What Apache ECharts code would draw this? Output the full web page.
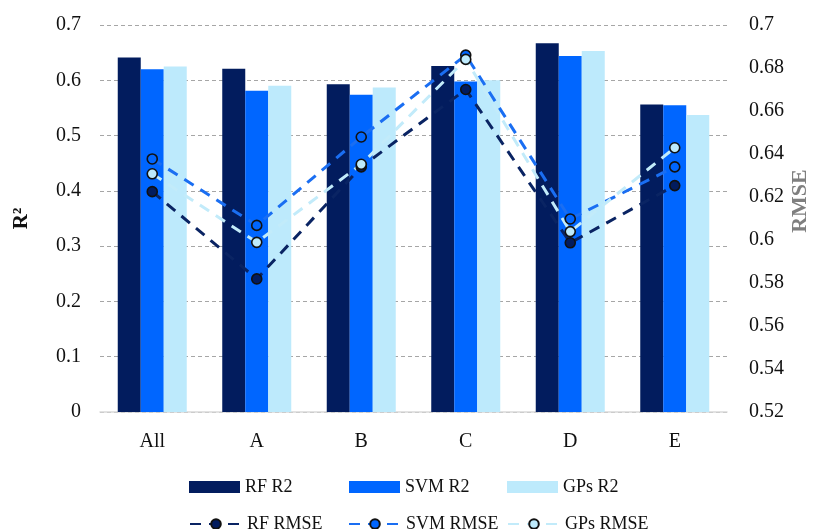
<!DOCTYPE html>
<html><head><meta charset="utf-8">
<script src="https://cdn.jsdelivr.net/npm/echarts@6/dist/echarts.min.js"></script>
<style>html,body{margin:0;padding:0;background:#fff}#c{width:814px;height:529px}</style>
</head><body><div id="c"></div>
<script>
const categories = ['All','A','B','C','D','E'];
const rfR2  = [0.641, 0.621, 0.593, 0.626, 0.667, 0.556];
const svmR2 = [0.620, 0.581, 0.574, 0.598, 0.644, 0.555];
const gpsR2 = [0.625, 0.590, 0.587, 0.600, 0.653, 0.537];
const rfRMSE  = [0.6225, 0.5819, 0.6340, 0.6700, 0.5987, 0.6253];
const svmRMSE = [0.6377, 0.6068, 0.6479, 0.6860, 0.6098, 0.6340];
const gpsRMSE = [0.6308, 0.5989, 0.6352, 0.6840, 0.6039, 0.6429];
const leftTicks = {min: 0, max: 0.7, interval: 0.1};
const rightTicks = {min: 0.52, max: 0.7, interval: 0.02};

const FONT = '"Liberation Serif", "DejaVu Serif", serif';
const C_RF = '#021c5e', C_SVM = '#0066ff', C_GPS = '#bdeafc';
const L_RF = '#0a2463', L_SVM = '#1a6ef2', L_GPS = '#c2ebfa';
const fmt = v => String(parseFloat(Number(v).toFixed(2)));

const chart = echarts.init(document.getElementById('c'));
function barS(name, data, color){
  return {name, type:'bar', data, yAxisIndex:0, barWidth:23, barGap:'0%',
    itemStyle:{color}, z:2};
}
function lineS(name, data, color, fill){
  return {name, type:'line', data, yAxisIndex:1, symbol:'circle', symbolSize:10,
    lineStyle:{color, width:3, type:[11,8]},
    itemStyle:{color:fill, borderColor:'#111', borderWidth:1.6}, z:5};
}
function leg(name, left, top, iw, icon){
  const o = {data:[name], left, top, itemWidth:iw, itemHeight:12, itemGap:0,
    textStyle:{fontFamily:FONT, fontSize:18, color:'#111'}, padding:0,
    selectedMode:false};
  if (icon) o.icon = icon;
  return o;
}
chart.setOption({
  animation:false,
  grid:{left:100, right:87, top:25, bottom:117, containLabel:false, outerBoundsMode:'none'},
  xAxis:{type:'category', data:categories,
    axisLine:{lineStyle:{color:'#d9d9d9', width:1.5}}, axisTick:{show:false},
    axisLabel:{fontFamily:FONT, fontSize:20, color:'#111', margin:20}},
  yAxis:[
    {type:'value', ...leftTicks, position:'left',
     name:'R²', nameLocation:'middle', nameRotate:90, nameGap:68,
     nameTextStyle:{fontFamily:FONT, fontSize:21, fontWeight:'bold', color:'#111'},
     axisLine:{show:false}, axisTick:{show:false},
     axisLabel:{fontFamily:FONT, fontSize:20, color:'#111', margin:19, formatter:fmt},
     splitLine:{lineStyle:{color:'#a6a6a6', type:[4,3], width:1}}},
    {type:'value', ...rightTicks, position:'right',
     axisLine:{show:false}, axisTick:{show:false},
     axisLabel:{fontFamily:FONT, fontSize:20, color:'#111', margin:22, formatter:fmt},
     splitLine:{show:false}}
  ],
  graphic:[{type:'text', x:800, y:201, rotation:Math.PI/2,
    style:{text:'RMSE', fontFamily:FONT, fontSize:22, fontWeight:'bold', fill:'#7f7f7f',
      align:'center', verticalAlign:'middle'}}],
  legend:[
    leg('RF R2', 189, 478, 51, 'rect'), leg('SVM R2', 349, 478, 51, 'rect'), leg('GPs R2', 507, 478, 51, 'rect'),
    leg('RF RMSE', 189, 515, 52), leg('SVM RMSE', 348, 515, 52), leg('GPs RMSE', 507, 515, 52)
  ],
  series:[
    barS('RF R2', rfR2, C_RF), barS('SVM R2', svmR2, C_SVM), barS('GPs R2', gpsR2, C_GPS),
    lineS('RF RMSE', rfRMSE, L_RF, C_RF), lineS('SVM RMSE', svmRMSE, L_SVM, C_SVM),
    lineS('GPs RMSE', gpsRMSE, L_GPS, C_GPS)
  ]
});
</script></body></html>
